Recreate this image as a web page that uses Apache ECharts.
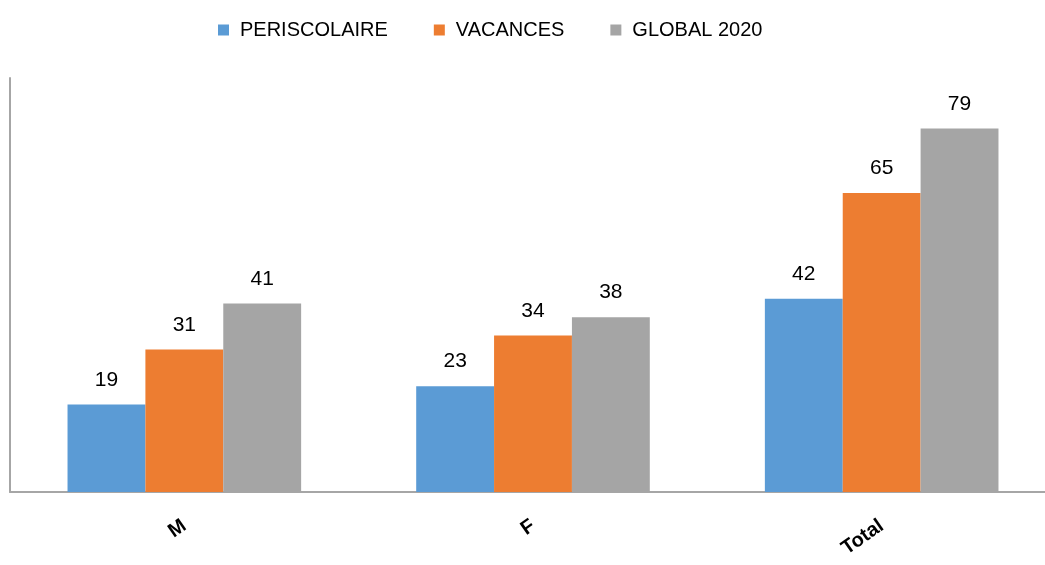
<!DOCTYPE html>
<html>
<head>
<meta charset="utf-8">
<script src="https://cdn.jsdelivr.net/npm/echarts@6/dist/echarts.min.js"></script>
<style>
  html, body { margin: 0; padding: 0; background: #fff; overflow: hidden; }
  #chart { width: 1056px; height: 565px; }
</style>
</head>
<body>
<div id="chart"></div>
<script>
  var categories = ['M', 'F', 'Total'];
  var periscolaire = [19, 23, 42];
  var vacances = [31, 34, 65];
  var global2020 = [41, 38, 79];

  var chart = echarts.init(document.getElementById('chart'), null, { renderer: 'canvas' });

  var labelStyle = {
    show: true,
    position: 'top',
    distance: 14,
    color: '#000',
    fontSize: 21,
    fontFamily: 'Liberation Sans, Arial, sans-serif'
  };

  var option = {
    animation: false,
    color: ['#5b9bd5', '#ed7d31', '#a5a5a5'],
    legend: {
      top: 15,
      left: 213,
      itemWidth: 11,
      itemHeight: 11,
      itemGap: 46,
      icon: 'rect',
      textStyle: { fontSize: 20, color: '#000', padding: [0, 0, 0, 6], fontFamily: 'Liberation Sans, Arial, sans-serif' },
      data: ['PERISCOLAIRE', 'VACANCES', 'GLOBAL 2020']
    },
    grid: { left: 10, top: 78, right: 0, height: 414, containLabel: false },
    xAxis: {
      type: 'category',
      data: categories,
      axisLine: { lineStyle: { color: '#a6a6a6', width: 2 } },
      axisTick: { show: false },
      axisLabel: {
        rotate: 35,
        margin: 32,
        fontSize: 20,
        fontWeight: 'bold',
        color: '#000',
        fontFamily: 'Liberation Sans, Arial, sans-serif'
      }
    },
    yAxis: {
      type: 'value',
      min: 0,
      max: 90,
      axisLine: { show: true, lineStyle: { color: '#a6a6a6', width: 2 } },
      axisTick: { show: false },
      axisLabel: { show: false },
      splitLine: { show: false }
    },
    series: [
      { name: 'PERISCOLAIRE', type: 'bar', data: periscolaire, barGap: '0%', barCategoryGap: '33%', label: labelStyle },
      { name: 'VACANCES', type: 'bar', data: vacances, label: labelStyle },
      { name: 'GLOBAL 2020', type: 'bar', data: global2020, label: labelStyle }
    ]
  };

  chart.setOption(option);
  window.addEventListener('resize', chart.resize);
</script>
</body>
</html>
